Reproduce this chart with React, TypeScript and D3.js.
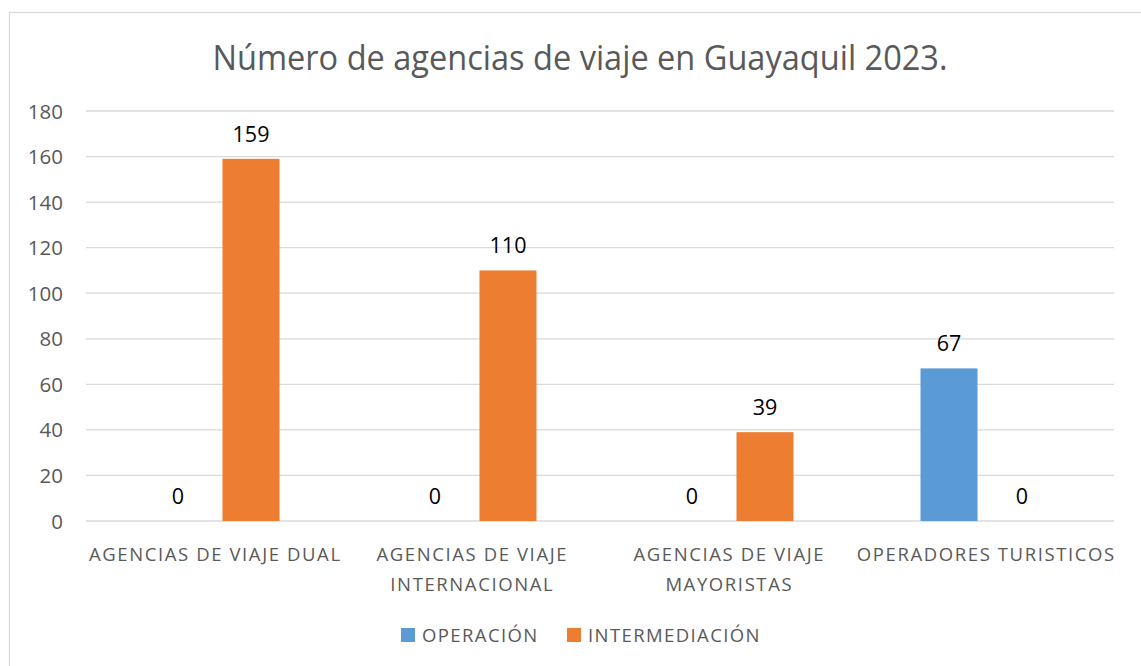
import React from "react";
import * as d3 from "d3";

const categories: string[][] = [
  ["AGENCIAS DE VIAJE DUAL"],
  ["AGENCIAS DE VIAJE", "INTERNACIONAL"],
  ["AGENCIAS DE VIAJE", "MAYORISTAS"],
  ["OPERADORES TURISTICOS"],
];
const seriesNames = ["OPERACIÓN", "INTERMEDIACIÓN"];
const operacion = [0, 0, 0, 67];
const intermediacion = [159, 110, 39, 0];
const yTicks = [0, 20, 40, 60, 80, 100, 120, 140, 160, 180];
const colors = ["#5B9BD5", "#ED7D31"];
const title = "Número de agencias de viaje en Guayaquil 2023.";

const W = 1141;
const H = 666;
const plot = { left: 86, right: 1114, top: 111, bottom: 521 };
const FONT = "'Open Sans', 'Noto Sans', sans-serif";

export default function App() {
  const values = [operacion, intermediacion];
  const x0 = d3
    .scaleBand<number>()
    .domain(categories.map((_, i) => i))
    .range([plot.left, plot.right])
    .padding(0);
  const innerW = 130;
  const x1 = d3
    .scaleBand<number>()
    .domain(seriesNames.map((_, i) => i))
    .range([0, innerW])
    .paddingInner(0.219)
    .paddingOuter(0);
  const y = d3.scaleLinear().domain([0, 180]).range([plot.bottom, plot.top]);
  const off = (x0.bandwidth() - innerW) / 2;

  return (
    <svg
      width={W}
      height={H}
      style={{ position: "absolute", left: 0, top: 0, background: "#fff" }}
    >
      <rect x={0} y={0} width={W} height={H} fill="#fff" />
      <rect
        x={9.5}
        y={12.5}
        width={W + 20}
        height={H + 20}
        fill="#fff"
        stroke="#d9d9d9"
        strokeWidth={1.3}
      />
      <text
        x={580}
        y={70}
        textAnchor="middle"
        fontFamily={FONT}
        fontSize={34}
        fill="#595959"
        textLength={735}
        lengthAdjust="spacingAndGlyphs"
      >
        {title}
      </text>
      {yTicks.map((t) => (
        <g key={t}>
          <line
            x1={plot.left}
            x2={plot.right}
            y1={y(t)}
            y2={y(t)}
            stroke="#d9d9d9"
            strokeWidth={1.3}
          />
          <text
            x={63}
            y={y(t) + 7.5}
            textAnchor="end"
            fontFamily={FONT}
            fontSize={20.5}
            fill="#595959"
          >
            {t}
          </text>
        </g>
      ))}
      {categories.map((cat, ci) => (
        <g key={ci}>
          {values.map((vals, si) => {
            const v = vals[ci];
            const bx = (x0(ci) as number) + off + (x1(si) as number);
            const bw = x1.bandwidth();
            return (
              <g key={si}>
                {v > 0 && (
                  <rect
                    x={bx}
                    y={y(v)}
                    width={bw}
                    height={y(0) - y(v)}
                    fill={colors[si]}
                  />
                )}
                <text
                  x={bx + bw / 2}
                  y={y(v) - 17}
                  textAnchor="middle"
                  fontFamily={FONT}
                  fontSize={21.5}
                  fill="#000"
                >
                  {v}
                </text>
              </g>
            );
          })}
          {cat.map((line, li) => (
            <text
              key={li}
              x={(x0(ci) as number) + x0.bandwidth() / 2 + 0.8}
              y={561 + li * 30}
              textAnchor="middle"
              fontFamily={FONT}
              fontSize={18.5}
              letterSpacing={1.6}
              fill="#595959"
            >
              {line}
            </text>
          ))}
        </g>
      ))}
      {seriesNames.map((s, i) => {
        const lx = [401, 567][i];
        return (
          <g key={s}>
            <rect x={lx} y={628} width={14} height={14} fill={colors[i]} />
            <text
              x={lx + 21}
              y={642}
              fontFamily={FONT}
              fontSize={18.5}
              letterSpacing={1.4}
              fill="#595959"
            >
              {s}
            </text>
          </g>
        );
      })}
    </svg>
  );
}
